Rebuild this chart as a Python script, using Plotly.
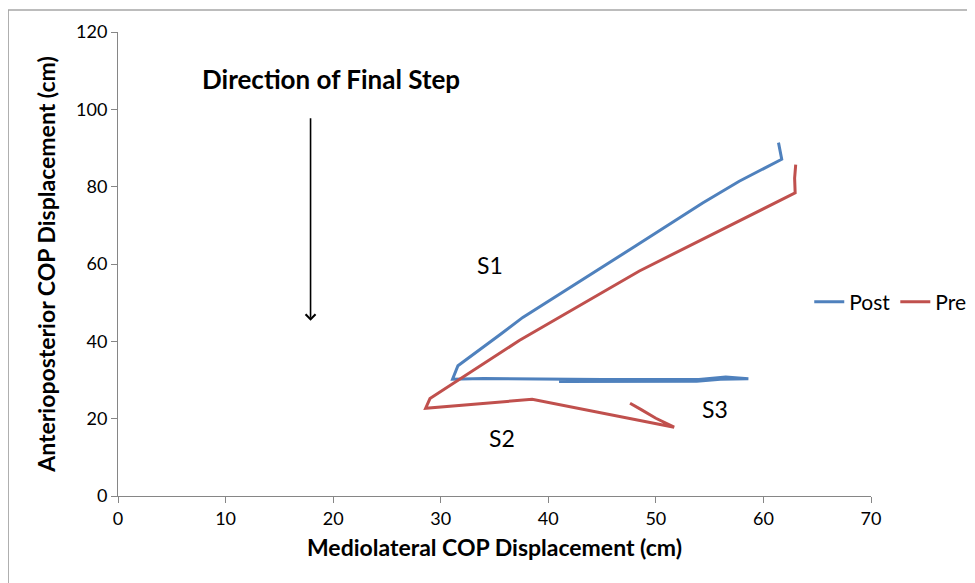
import plotly.graph_objects as go

# Post (blue) trajectory
post_x = [61.4, 61.7, 57.75, 54.35, 47.85, 37.63, 35.5, 31.6, 31.1, 34.0, 45.0, 54.0, 56.5, 58.6, 56.0, 53.8, 41.0]
post_y = [91.4, 87.1, 81.4, 75.8, 64.2, 46.2, 41.7, 33.7, 30.2, 30.4, 30.1, 30.1, 30.8, 30.3, 30.2, 29.7, 29.6]

# Pre (red) trajectory
pre_x = [63.0, 62.9, 62.95, 57.75, 48.47, 37.3, 31.8, 29.0, 28.6, 38.5, 51.7, 50.0, 48.6, 47.6]
pre_y = [85.7, 82.2, 78.4, 71.1, 58.2, 40.2, 30.4, 25.2, 22.7, 25.0, 17.8, 20.1, 22.4, 24.0]

x_ticks = [0, 10, 20, 30, 40, 50, 60, 70]
y_ticks = [0, 20, 40, 60, 80, 100, 120]

labels = ["S1", "S2", "S3"]
label_x = [34.6, 35.7, 55.5]
label_y = [59.7, 14.9, 22.4]

FONT = "Lato"
BLUE = "#4F81BD"
RED = "#C0504D"

fig = go.Figure()
fig.add_trace(go.Scatter(x=post_x, y=post_y, mode="lines", name="Post",
                         line=dict(color=BLUE, width=3)))
fig.add_trace(go.Scatter(x=pre_x, y=pre_y, mode="lines", name="Pre",
                         line=dict(color=RED, width=3)))

for t, lx, ly in zip(labels, label_x, label_y):
    fig.add_annotation(x=lx, y=ly, text=t, showarrow=False,
                       font=dict(family=FONT, size=23, color="#000"))

fig.add_annotation(x=19.8, y=107.9, text="<b>Direction of Final Step</b>", showarrow=False,
                   font=dict(family=FONT, size=26, color="#000"))
fig.add_annotation(x=17.9, y=45.3, ax=17.9, ay=98.1, axref="x", ayref="y",
                   text="", showarrow=True, arrowhead=4, arrowsize=1.2,
                   arrowwidth=1.6, arrowcolor="#000")

# outer chart border (left and top visible)
fig.add_shape(type="rect", xref="paper", yref="paper",
              x0=-0.1459, x1=1.2, y0=-0.25, y1=1.0472,
              line=dict(color="#A6A6A6", width=1.5), layer="below")

axis_common = dict(showgrid=False, zeroline=False, showline=True,
                   linecolor="#868686", linewidth=1, ticks="outside",
                   tickcolor="#868686", ticklen=6,
                   tickfont=dict(family=FONT, size=18, color="#000"))

fig.update_xaxes(range=[0, 70], tickvals=x_ticks, **axis_common,
                 title=dict(text="<b>Mediolateral COP Displacement (cm)</b>",
                            font=dict(family=FONT, size=23, color="#000"), standoff=12))
fig.update_yaxes(range=[0, 120], tickvals=y_ticks, **axis_common,
                 title=dict(text="<b>Anterioposterior COP Displacement (cm)</b>",
                            font=dict(family=FONT, size=23, color="#000"), standoff=14))

fig.update_layout(
    width=975, height=583,
    margin=dict(l=110, r=111, t=22, b=95),
    plot_bgcolor="white", paper_bgcolor="white",
    showlegend=True,
    legend=dict(orientation="h", x=0.918, y=0.418, xanchor="left", yanchor="middle",
                font=dict(family=FONT, size=21, color="#000"),
                bgcolor="rgba(0,0,0,0)", itemwidth=30, tracegroupgap=0),
)

fig.write_html("out.html")
